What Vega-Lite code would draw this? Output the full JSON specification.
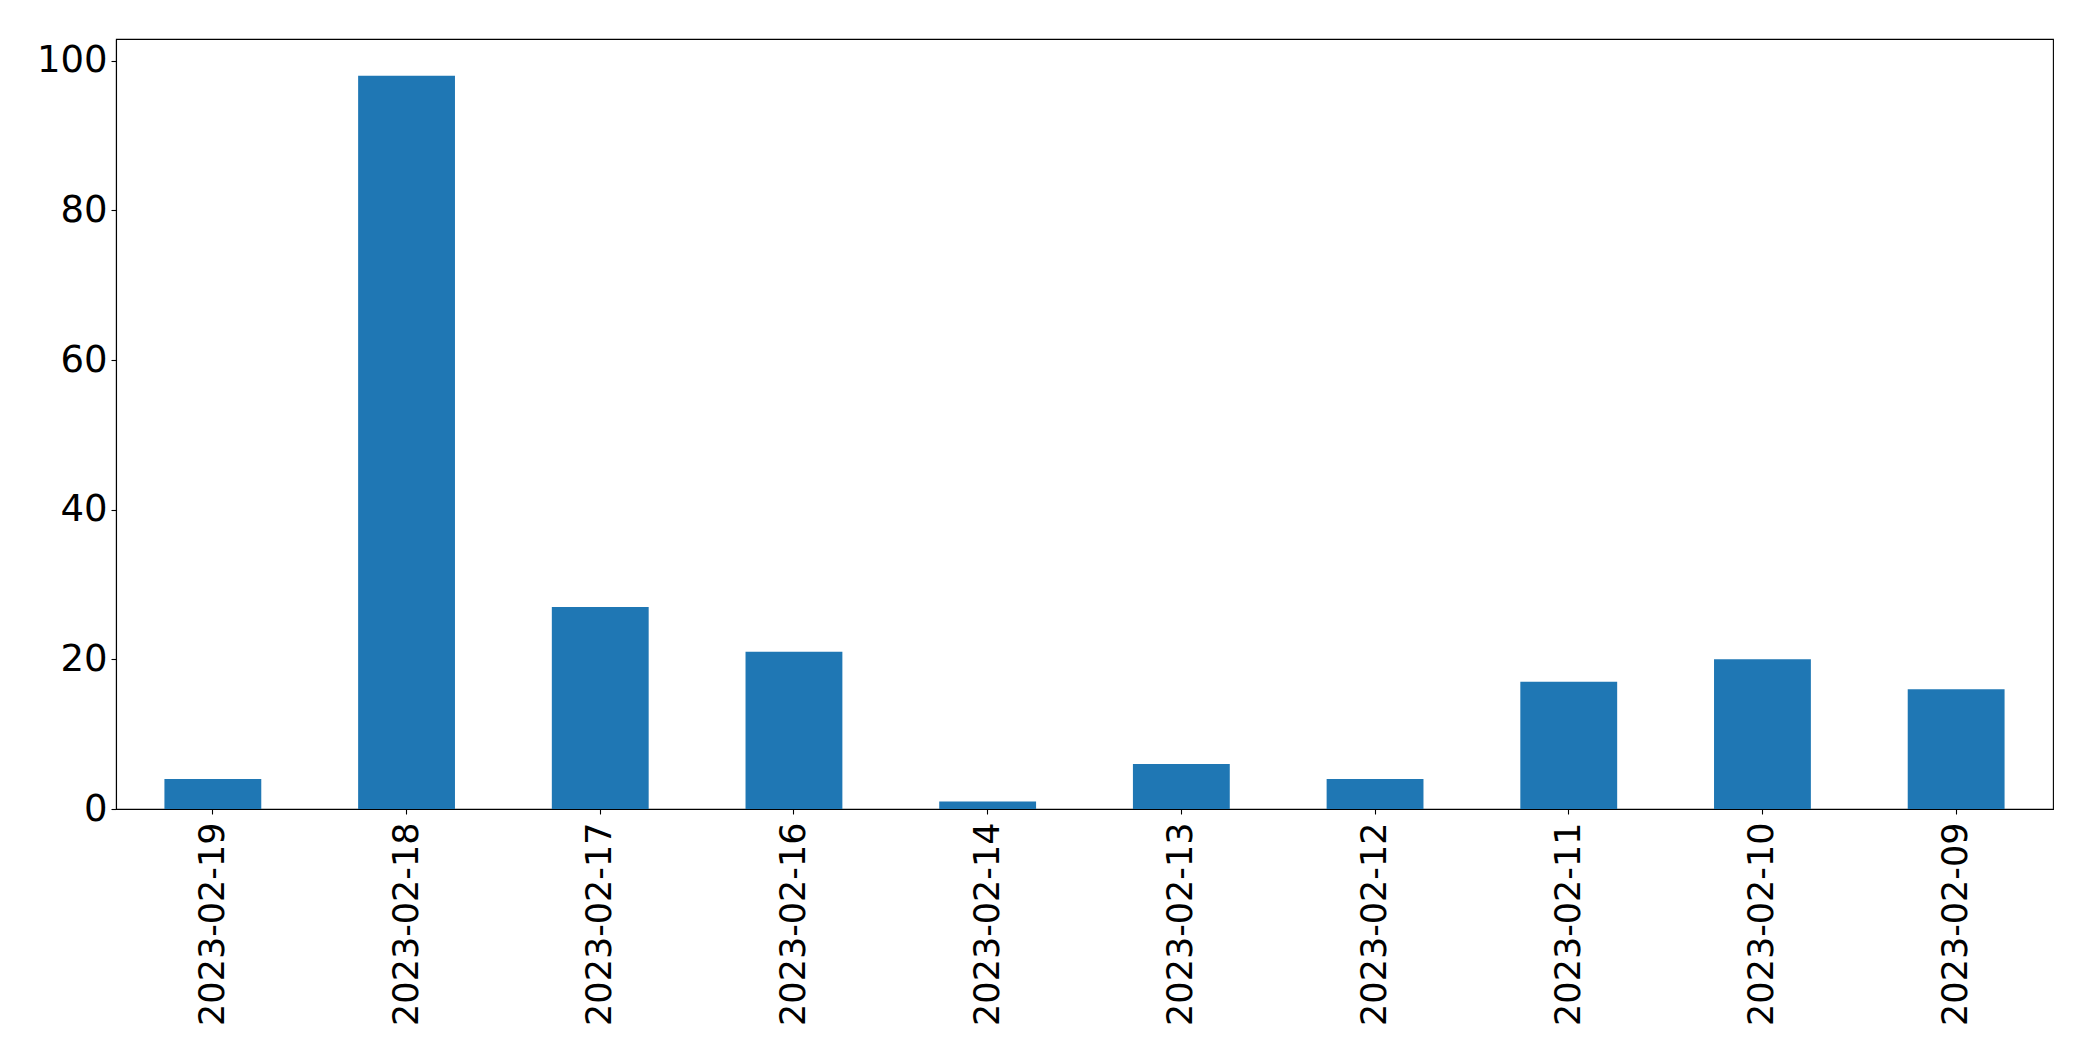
{
  "$schema": "https://vega.github.io/schema/vega-lite/v6.json",
  "autosize": {"type": "none"},
  "width": 1937,
  "height": 770,
  "padding": {"left": 116, "top": 39, "right": 40, "bottom": 252},
  "background": "white",
  "config": {
    "view": {"stroke": "black", "strokeWidth": 1.1},
    "font": "DejaVu Sans",
    "axis": {
      "grid": false,
      "domainColor": "black",
      "domainWidth": 1.1,
      "tickColor": "black",
      "tickWidth": 1.1,
      "tickSize": 5,
      "labelFont": "DejaVu Sans",
      "labelFontSize": 37,
      "labelColor": "black",
      "labelLimit": 0,
      "title": null
    }
  },
  "data": {
    "values": [
      {"date": "2023-02-19", "count": 4},
      {"date": "2023-02-18", "count": 98},
      {"date": "2023-02-17", "count": 27},
      {"date": "2023-02-16", "count": 21},
      {"date": "2023-02-14", "count": 1},
      {"date": "2023-02-13", "count": 6},
      {"date": "2023-02-12", "count": 4},
      {"date": "2023-02-11", "count": 17},
      {"date": "2023-02-10", "count": 20},
      {"date": "2023-02-09", "count": 16}
    ]
  },
  "mark": {"type": "bar", "color": "#1f77b4"},
  "encoding": {
    "x": {
      "field": "date",
      "type": "nominal",
      "sort": null,
      "scale": {"paddingInner": 0.5, "paddingOuter": 0.25},
      "axis": {"labelAngle": -90, "labelPadding": 8, "labelFontSize": 35}
    },
    "y": {
      "field": "count",
      "type": "quantitative",
      "scale": {"domain": [0, 102.9], "nice": false, "zero": true},
      "axis": {"values": [0, 20, 40, 60, 80, 100], "labelPadding": 4}
    }
  }
}
